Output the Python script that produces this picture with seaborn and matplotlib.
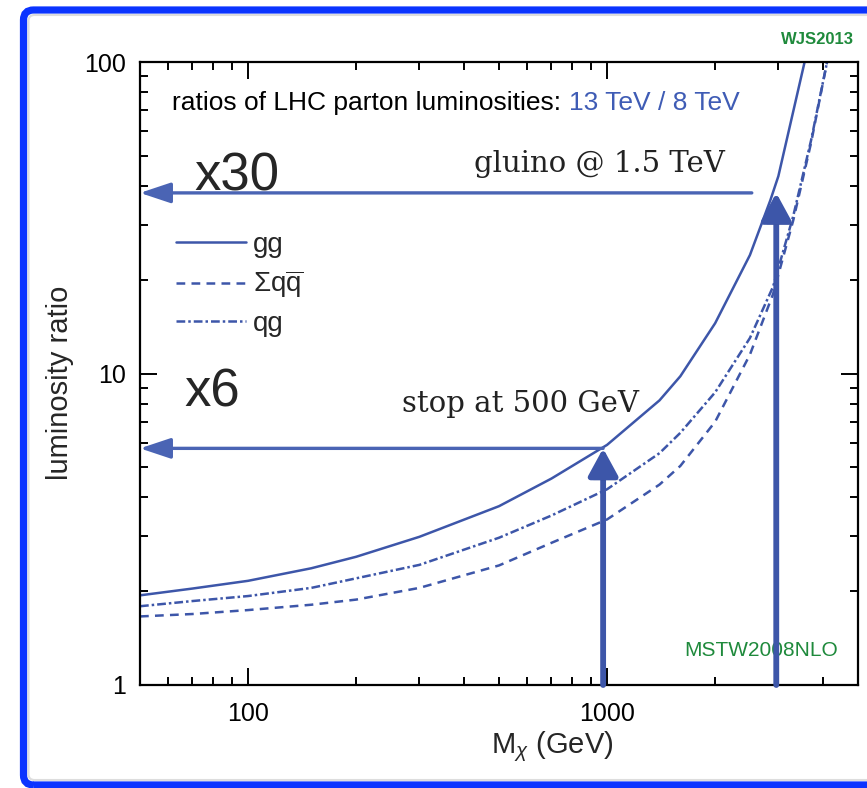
import matplotlib
matplotlib.use("Agg")
import matplotlib.pyplot as plt
from matplotlib import font_manager as fm
from matplotlib.patches import FancyBboxPatch
from matplotlib.ticker import FixedLocator, NullFormatter, FuncFormatter, LogLocator
import matplotlib.patheffects as pe
import seaborn as sns
import pandas as pd
import numpy as np

# ---------------- data ----------------
mass_gg = [50, 70, 100, 150, 200, 300, 500, 700, 1000, 1400, 1600, 2000, 2500, 2850, 3000, 3550, 3700]
ratio_gg = [1.94, 2.04, 2.16, 2.37, 2.58, 2.99, 3.75, 4.6, 5.9, 8.2, 9.8, 14.5, 24, 36, 43, 100, 122]

mass_qq = [50, 70, 100, 150, 200, 300, 500, 700, 1000, 1400, 1600, 2000, 2500, 2900, 3300, 3700, 4100, 4200]
ratio_qq = [1.66, 1.69, 1.74, 1.81, 1.88, 2.05, 2.42, 2.86, 3.4, 4.4, 5.05, 7.0, 11.5, 18, 31, 55, 100, 115]

mass_qg = [50, 70, 100, 150, 200, 300, 500, 700, 1000, 1400, 1600, 2000, 2500, 2900, 3300, 3700, 4100, 4200]
ratio_qg = [1.79, 1.86, 1.93, 2.05, 2.2, 2.43, 2.97, 3.5, 4.25, 5.55, 6.45, 8.7, 13.0, 19, 32, 56, 100, 115]

channels = ["gg", "qq", "qg"]
legend_labels = ["gg", r"$\Sigma$q$\overline{\mathrm{q}}$", "qg"]

arrow_mass = [975, 2960]          # vertical arrows (stop pair, gluino pair)
arrow_ratio = [5.75, 38]          # where they hit the gg curve
harrow_start = [975, 2530]        # horizontal arrow tails
harrow_label = ["x6", "x30"]
process_label = ["stop at 500 GeV", "gluino @ 1.5 TeV"]

xlim = (50, 5000)
ylim = (1, 100)

# ---------------- style ----------------
sns.set_style("ticks")
names = {f.name for f in fm.fontManager.ttflist}
NARROW = "Liberation Sans Narrow" if "Liberation Sans Narrow" in names else "Liberation Sans"
plt.rcParams["font.family"] = [NARROW, "DejaVu Sans"]
plt.rcParams["mathtext.fontset"] = "custom"
plt.rcParams["mathtext.rm"] = NARROW
plt.rcParams["mathtext.it"] = NARROW + ":italic"
plt.rcParams["mathtext.sf"] = NARROW

BLUE = "#3d56a9"
GREEN = "#1f8a3c"

df = pd.concat([
    pd.DataFrame({"mass": mass_gg, "ratio": ratio_gg, "channel": "gg"}),
    pd.DataFrame({"mass": mass_qq, "ratio": ratio_qq, "channel": "qq"}),
    pd.DataFrame({"mass": mass_qg, "ratio": ratio_qg, "channel": "qg"}),
], ignore_index=True)

fig = plt.figure(figsize=(8.67, 7.88), dpi=100)
ax = fig.add_axes([140 / 867, 103 / 788, 718 / 867, 623 / 788])

sns.lineplot(data=df, x="mass", y="ratio", style="channel", style_order=channels,
             dashes={"gg": "", "qq": (3.5, 2.5), "qg": (3.5, 1.2, 1.0, 1.2)},
             color=BLUE, linewidth=1.8, ax=ax, legend=True, sort=False)

ax.set_xscale("log")
ax.set_yscale("log")
ax.set_xlim(*xlim)
ax.set_ylim(*ylim)

# ticks
ax.xaxis.set_major_locator(FixedLocator([100, 1000]))
ax.xaxis.set_minor_locator(LogLocator(base=10, subs=np.arange(2, 10)))
ax.yaxis.set_major_locator(FixedLocator([1, 10, 100]))
ax.yaxis.set_minor_locator(LogLocator(base=10, subs=np.arange(2, 10)))
fmt = FuncFormatter(lambda v, p: f"{v:g}")
ax.xaxis.set_major_formatter(fmt)
ax.yaxis.set_major_formatter(fmt)
ax.xaxis.set_minor_formatter(NullFormatter())
ax.yaxis.set_minor_formatter(NullFormatter())
ax.tick_params(which="both", direction="in", top=True, right=True, width=1.4,
               colors="black", labelsize=18)
ax.tick_params(axis="x", which="major", length=12, pad=12)
ax.tick_params(axis="y", which="major", length=12, pad=10)
ax.tick_params(which="minor", length=6)
for s in ax.spines.values():
    s.set_linewidth(1.6)
    s.set_color("black")

ax.set_xlabel(r"M$_\chi$ (GeV)", fontsize=21)
ax.xaxis.set_label_coords(0.574, -0.072)
ax.set_ylabel("luminosity ratio", fontsize=21)
ax.yaxis.set_label_coords(-0.092, 0.485)

# legend
handles, _ = ax.get_legend_handles_labels()
handles = handles[-3:]
leg = ax.legend(handles, legend_labels, loc="upper left", bbox_to_anchor=(0.035, 0.745),
                frameon=False, fontsize=20, handlelength=2.5, handletextpad=0.25,
                labelspacing=0.38, borderaxespad=0)

# arrows
for xm, yr in zip(arrow_mass, arrow_ratio):
    ax.annotate("", xy=(xm, yr), xytext=(xm, ylim[0]),
                arrowprops=dict(arrowstyle="-|>,head_length=0.55,head_width=0.3",
                                color=BLUE, lw=4.2, mutation_scale=30,
                                shrinkA=0, shrinkB=0,
                                path_effects=[pe.SimplePatchShadow(offset=(2, -2), alpha=0.35),
                                              pe.Normal()]),
                zorder=4)
for xs, yr in zip(harrow_start, arrow_ratio):
    ax.annotate("", xy=(xlim[0], yr), xytext=(xs, yr),
                arrowprops=dict(arrowstyle="-|>,head_length=0.75,head_width=0.25",
                                color="#4a64b4", lw=2.4, mutation_scale=25,
                                shrinkA=0, shrinkB=0), zorder=3)

# texts
ax.text(0.062, 0.469, harrow_label[0], transform=ax.transAxes, fontsize=38,
        family="Liberation Sans", va="center", ha="left")
ax.text(0.076, 0.816, harrow_label[1], transform=ax.transAxes, fontsize=38,
        family="Liberation Sans", va="center", ha="left")
ax.text(0.365, 0.451, process_label[0], transform=ax.transAxes, fontsize=21,
        family="DejaVu Serif", va="center", ha="left", color="#222222")
ax.text(0.465, 0.837, process_label[1], transform=ax.transAxes, fontsize=21,
        family="DejaVu Serif", va="center", ha="left", color="#222222")

t1 = ax.text(0.045, 0.934, "ratios of LHC parton luminosities: ", transform=ax.transAxes,
             fontsize=19, va="center", ha="left", color="black")
ax.annotate("13 TeV / 8 TeV", xy=(1, 0), xycoords=t1, va="bottom", ha="left",
            fontsize=19, color="#3f5cb5")

ax.text(0.865, 0.055, "MSTW2008NLO", transform=ax.transAxes, fontsize=15,
        color=GREEN, ha="center", va="center")
fig.text(817 / 867, 1 - 40 / 788, "WJS2013", fontsize=12, fontweight="bold",
         color=GREEN, ha="center", va="center")

# blue frame
frame = FancyBboxPatch((23.5, 3.0), 860, 775, boxstyle="round,pad=0,rounding_size=10",
                       transform=None, fill=False, edgecolor="#0b34ff", linewidth=5.2,
                       zorder=10)
fig.patches.append(frame)
shadow = FancyBboxPatch((28.5, 8.0), 850, 765, boxstyle="round,pad=0,rounding_size=6",
                        transform=None, fill=False, edgecolor="#dddddd", linewidth=1.5,
                        zorder=9)
fig.patches.append(shadow)

fig.savefig("out.png", dpi=100)
